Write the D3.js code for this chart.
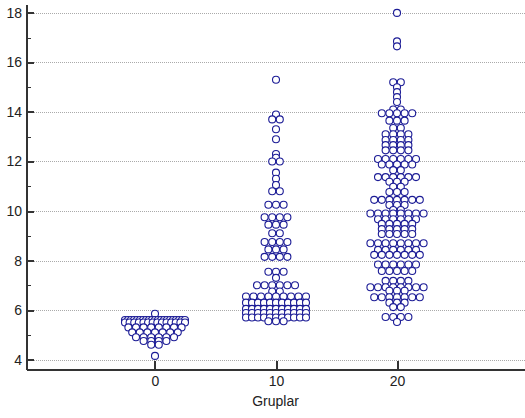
<!DOCTYPE html>
<html>
<head>
<meta charset="utf-8">
<script src="https://cdnjs.cloudflare.com/ajax/libs/d3/7.8.5/d3.min.js"></script>
<style>
    body { margin: 0; background-color: #fff; }
    svg { font: 14px 'Liberation Sans', Arial, sans-serif; }
    .grid line { stroke: #aaa; stroke-width: 1; stroke-dasharray: 1,1; shape-rendering: crispEdges; }
    .axis path, .axis line { stroke: #333; stroke-width: 2; shape-rendering: crispEdges; }
    .minor line { stroke: #333; stroke-width: 1; shape-rendering: crispEdges; }
    .axis text { fill: #222; font-size: 14px; }
</style>
</head>
<body>
<svg width="525" height="418"></svg>
<script>
// groups on the x axis
var groups = [0, 10, 20];
var xLabel = "Gruplar";
var yTicks = [4, 6, 8, 10, 12, 14, 16, 18];
var yMinor = [5, 7, 9, 11, 13, 15, 17];

// values, one row of equal values per line
var group0 = [
    5.85,
    5.6, 5.6, 5.6, 5.6, 5.6, 5.6, 5.6, 5.6, 5.6, 5.6, 5.6, 5.6, 5.6, 5.6, 5.6, 5.6, 5.6, 5.6, 5.6, 5.6, 5.6,
    5.5, 5.5, 5.5, 5.5, 5.5, 5.5, 5.5, 5.5, 5.5, 5.5, 5.5, 5.5, 5.5, 5.5,
    5.3, 5.3, 5.3, 5.3, 5.3, 5.3, 5.3, 5.3,
    5.1, 5.1, 5.1, 5.1, 5.1, 5.1, 5.1,
    4.9, 4.9, 4.9, 4.9, 4.9, 4.9,
    4.75, 4.75, 4.75, 4.75,
    4.6, 4.6,
    4.15
];
var group10 = [
    15.3,
    13.9,
    13.7, 13.7,
    13.3,
    12.9,
    12.3,
    12.15,
    12.0, 12.0,
    11.55,
    11.3,
    11.05,
    10.8, 10.8,
    10.25, 10.25, 10.25,
    9.75, 9.75, 9.75, 9.75,
    9.45, 9.45, 9.45,
    9.1, 9.1,
    8.75, 8.75, 8.75, 8.75,
    8.45, 8.45, 8.45,
    8.15, 8.15, 8.15, 8.15,
    7.55, 7.55, 7.55,
    7.3,
    7.0, 7.0, 7.0, 7.0, 7.0, 7.0,
    6.75, 6.75,
    6.55, 6.55, 6.55, 6.55, 6.55, 6.55, 6.55, 6.55, 6.55,
    6.3, 6.3, 6.3, 6.3, 6.3, 6.3, 6.3, 6.3, 6.3, 6.3, 6.3,
    6.05, 6.05, 6.05, 6.05, 6.05, 6.05, 6.05, 6.05, 6.05, 6.05, 6.05,
    5.88, 5.88, 5.88, 5.88, 5.88, 5.88, 5.88, 5.88, 5.88, 5.88, 5.88,
    5.7, 5.7, 5.7, 5.7, 5.7, 5.7, 5.7, 5.7, 5.7, 5.7, 5.7,
    5.55, 5.55, 5.55
];
var group20 = [
    18.0,
    16.85,
    16.65,
    15.2, 15.2,
    15.0,
    14.8,
    14.6,
    14.4,
    14.1, 14.1,
    13.95, 13.95, 13.95, 13.95, 13.95,
    13.65, 13.65, 13.65,
    13.35, 13.35,
    13.1, 13.1, 13.1, 13.1,
    12.87, 12.87, 12.87, 12.87,
    12.66, 12.66, 12.66, 12.66,
    12.45, 12.45, 12.45, 12.45,
    12.1, 12.1, 12.1, 12.1, 12.1, 12.1,
    11.88, 11.88, 11.88, 11.88, 11.88,
    11.65, 11.65,
    11.37, 11.37, 11.37, 11.37, 11.37, 11.37,
    11.18, 11.18, 11.18,
    10.98, 10.98,
    10.77, 10.77, 10.77,
    10.45, 10.45, 10.45, 10.45, 10.45, 10.45, 10.45,
    10.24, 10.24, 10.24,
    10.04, 10.04,
    9.9, 9.9, 9.9, 9.9, 9.9, 9.9, 9.9, 9.9,
    9.67, 9.67, 9.67, 9.67, 9.67, 9.67,
    9.48, 9.48, 9.48, 9.48, 9.48,
    9.27, 9.27, 9.27, 9.27, 9.27,
    9.07, 9.07, 9.07, 9.07, 9.07,
    8.7, 8.7, 8.7, 8.7, 8.7, 8.7, 8.7, 8.7,
    8.43, 8.43, 8.43, 8.43, 8.43, 8.43,
    8.23, 8.23, 8.23, 8.23, 8.23, 8.23, 8.23,
    7.84, 7.84, 7.84, 7.84, 7.84, 7.84,
    7.58, 7.58, 7.58, 7.58, 7.58,
    7.18, 7.18, 7.18, 7.18,
    6.92, 6.92, 6.92, 6.92, 6.92, 6.92, 6.92, 6.92,
    6.78, 6.78, 6.78,
    6.52, 6.52, 6.52, 6.52, 6.52, 6.52, 6.52,
    6.3, 6.3, 6.3,
    6.12, 6.12,
    5.72, 5.72, 5.72, 5.72,
    5.52
];
var series = [group0, group10, group20];

var svg = d3.select("svg"),
    W = +svg.attr("width"),
    H = +svg.attr("height"),
    plotLeft = 26, plotTop = 4, plotBottom = 369;

var x = d3.scaleLinear().domain([-10.66, 30.66]).range([plotLeft, W + 1]),
    y = d3.scaleLinear().domain([3.62, 18.36]).range([plotBottom, plotTop]);

// dotted grid at the major ticks
svg.append("g").attr("class", "grid")
    .selectAll("line")
    .data(yTicks)
    .enter().append("line")
    .attr("x1", plotLeft + 8)
    .attr("x2", W)
    .attr("y1", function(d) { return Math.round(y(d)) + 0.5; })
    .attr("y2", function(d) { return Math.round(y(d)) + 0.5; });

// rows of equal values spread sideways, squeezed when too wide
var maxSpan = 60, step = 7.6;
var points = [];
series.forEach(function(vals, gi) {
    var rows = d3.group(vals, function(v) { return v; });
    rows.forEach(function(row, v) {
        var n = row.length,
            s = n > 1 ? Math.min(step, maxSpan / (n - 1)) : 0;
        row.forEach(function(d, i) {
            points.push({g: groups[gi], v: v, dx: (i - (n - 1) / 2) * s});
        });
    });
});

svg.append("g").attr("class", "points")
    .selectAll("circle")
    .data(points)
    .enter().append("circle")
    .attr("cx", function(d) { return x(d.g) + d.dx; })
    .attr("cy", function(d) { return y(d.v); })
    .attr("r", 3.5)
    .style("fill", "#fff")
    .style("stroke", "#1c1c96")
    .style("stroke-width", 1.1);

// minor ticks on y
svg.append("g").attr("class", "minor")
    .attr("transform", "translate(" + plotLeft + ",0)")
    .call(d3.axisLeft(y).tickValues(yMinor).tickSize(-5).tickFormat(""))
    .select(".domain").remove();

// y axis
svg.append("g").attr("class", "axis")
    .attr("transform", "translate(" + plotLeft + ",0)")
    .call(d3.axisLeft(y).tickValues(yTicks).tickSizeInner(-8).tickSizeOuter(0).tickPadding(4));

// x axis
svg.append("g").attr("class", "axis")
    .attr("transform", "translate(0," + plotBottom + ")")
    .call(d3.axisBottom(x).tickValues(groups).tickSizeInner(-8).tickSizeOuter(0).tickPadding(7));

svg.append("text")
    .attr("x", (plotLeft + W) / 2)
    .attr("y", 406)
    .attr("text-anchor", "middle")
    .style("fill", "#222")
    .text(xLabel);
</script>
</body>
</html>
